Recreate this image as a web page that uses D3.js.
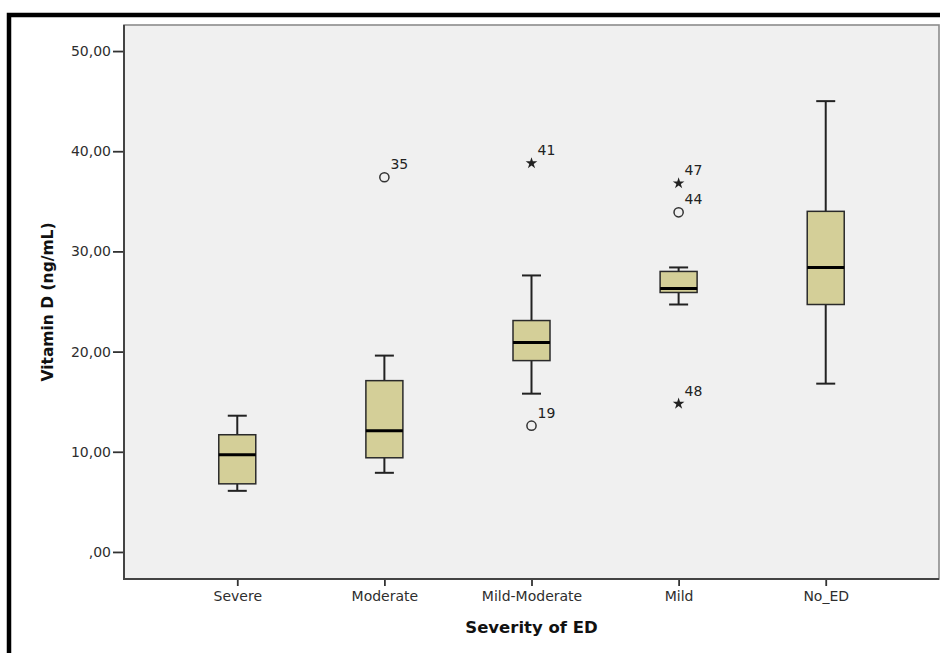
<!DOCTYPE html>
<html>
<head>
<meta charset="utf-8">
<script src="https://cdn.jsdelivr.net/npm/d3@7/dist/d3.min.js"></script>
<style>
  html, body { margin: 0; padding: 0; background: #fff; }
  svg { display: block; }
</style>
</head>
<body>
<svg id="chart" width="940" height="653"></svg>
<script>
// Vitamin D levels by severity of erectile dysfunction (SPSS-style boxplot)
const categories = ["Severe", "Moderate", "Mild-Moderate", "Mild", "No_ED"];
const whiskerLow  = [6.1, 7.9, 15.8, 24.7, 16.8];
const q1          = [6.8, 9.4, 19.1, 25.9, 24.7];
const medians     = [9.7, 12.1, 20.9, 26.3, 28.4];
const q3          = [11.7, 17.1, 23.1, 28.0, 34.0];
const whiskerHigh = [13.6, 19.6, 27.6, 28.4, 45.0];

// Outliers: category, value, case number, kind (circle = outlier, star = extreme)
const outlierCategory = ["Moderate", "Mild-Moderate", "Mild-Moderate", "Mild", "Mild", "Mild"];
const outlierValue    = [37.4, 38.8, 12.6, 36.8, 33.9, 14.8];
const outlierCase     = ["35", "41", "19", "47", "44", "48"];
const outlierKind     = ["circle", "star", "circle", "star", "circle", "star"];

const yTicks = [0, 10, 20, 30, 40, 50];
const yTitle = "Vitamin D (ng/mL)";
const xTitle = "Severity of ED";

const svg = d3.select("#chart");
const plot = { left: 124, top: 25, right: 939, bottom: 579 };

// Outer frame
svg.append("path")
  .attr("d", "M9,660 L9,15 L945,15")
  .attr("fill", "none")
  .attr("stroke", "#000")
  .attr("stroke-width", 4.5);

const x = d3.scalePoint()
  .domain(categories)
  .range([plot.left, plot.right])
  .padding(0.77);

const y = d3.scaleLinear()
  .domain([-2.7, 52.6])
  .range([plot.bottom, plot.top]);

// Plot background
svg.append("rect")
  .attr("x", plot.left).attr("y", plot.top)
  .attr("width", plot.right - plot.left)
  .attr("height", plot.bottom - plot.top)
  .attr("fill", "#f0f0f0")
  .attr("stroke", "#8c8c8c")
  .attr("stroke-width", 1.6);

const fmt = v => v === 0 ? ",00" : v.toFixed(2).replace(".", ",");
const tickFont = "'DejaVu Sans', sans-serif";

// Y axis
const yAxis = svg.append("g")
  .attr("transform", `translate(${plot.left},0)`)
  .call(d3.axisLeft(y).tickValues(yTicks).tickFormat(fmt).tickSize(11).tickPadding(2).tickSizeOuter(0));
yAxis.select(".domain").remove();
yAxis.selectAll(".tick line").attr("stroke", "#333").attr("stroke-width", 1.8);
yAxis.selectAll(".tick text")
  .attr("fill", "#2e2e2e")
  .style("font-family", tickFont)
  .style("font-size", "14px");

// X axis
const xAxis = svg.append("g")
  .attr("transform", `translate(0,${plot.bottom})`)
  .call(d3.axisBottom(x).tickSize(7).tickPadding(5).tickSizeOuter(0));
xAxis.select(".domain").remove();
xAxis.selectAll(".tick line").attr("stroke", "#333").attr("stroke-width", 1.8);
xAxis.selectAll(".tick text")
  .attr("fill", "#2e2e2e")
  .style("font-family", tickFont)
  .style("font-size", "14px");

// Axis lines (left and bottom)
svg.append("path")
  .attr("d", `M${plot.left},${plot.top} L${plot.left},${plot.bottom} L${plot.right},${plot.bottom}`)
  .attr("fill", "none")
  .attr("stroke", "#444")
  .attr("stroke-width", 2);

// Axis titles
svg.append("text")
  .attr("transform", `translate(53,${(plot.top + plot.bottom) / 2}) rotate(-90)`)
  .attr("text-anchor", "middle")
  .style("font-family", tickFont)
  .style("font-weight", "bold")
  .style("font-size", "15.5px")
  .attr("fill", "#111")
  .text(yTitle);

svg.append("text")
  .attr("x", (plot.left + plot.right) / 2)
  .attr("y", 633)
  .attr("text-anchor", "middle")
  .style("font-family", tickFont)
  .style("font-weight", "bold")
  .style("font-size", "16.5px")
  .attr("fill", "#111")
  .text(xTitle);

// Boxes
const boxW = 37, capW = 19;
const boxes = categories.map((c, i) => ({
  c, lo: whiskerLow[i], q1: q1[i], med: medians[i], q3: q3[i], hi: whiskerHigh[i]
}));

const g = svg.append("g");
boxes.forEach(b => {
  const cx = x(b.c);
  // whiskers
  g.append("line").attr("x1", cx).attr("x2", cx).attr("y1", y(b.hi)).attr("y2", y(b.q3))
    .attr("stroke", "#222").attr("stroke-width", 2);
  g.append("line").attr("x1", cx).attr("x2", cx).attr("y1", y(b.q1)).attr("y2", y(b.lo))
    .attr("stroke", "#222").attr("stroke-width", 2);
  // caps
  [b.hi, b.lo].forEach(v => {
    g.append("line").attr("x1", cx - capW / 2).attr("x2", cx + capW / 2)
      .attr("y1", y(v)).attr("y2", y(v))
      .attr("stroke", "#222").attr("stroke-width", 2);
  });
  // box
  g.append("rect")
    .attr("x", cx - boxW / 2).attr("y", y(b.q3))
    .attr("width", boxW).attr("height", y(b.q1) - y(b.q3))
    .attr("fill", "#d4cf98")
    .attr("stroke", "#2a2a2a").attr("stroke-width", 1.5);
  // median
  g.append("line").attr("x1", cx - boxW / 2).attr("x2", cx + boxW / 2)
    .attr("y1", y(b.med)).attr("y2", y(b.med))
    .attr("stroke", "#000").attr("stroke-width", 3);
});

// Outliers
const outliers = outlierValue.map((v, i) => ({
  c: outlierCategory[i], v, id: outlierCase[i], kind: outlierKind[i]
}));
outliers.forEach(o => {
  const cx = x(o.c), cy = y(o.v);
  if (o.kind === "circle") {
    g.append("circle").attr("cx", cx).attr("cy", cy).attr("r", 4.6)
      .attr("fill", "none").attr("stroke", "#333").attr("stroke-width", 1.5);
  } else {
    g.append("path")
      .attr("transform", `translate(${cx},${cy})`)
      .attr("d", d3.symbol(d3.symbolStar, 42)())
      .attr("fill", "#222");
  }
  g.append("text")
    .attr("x", cx + 6).attr("y", cy - 8)
    .style("font-family", tickFont)
    .style("font-size", "14px")
    .attr("fill", "#222")
    .text(o.id);
});
</script>
</body>
</html>
